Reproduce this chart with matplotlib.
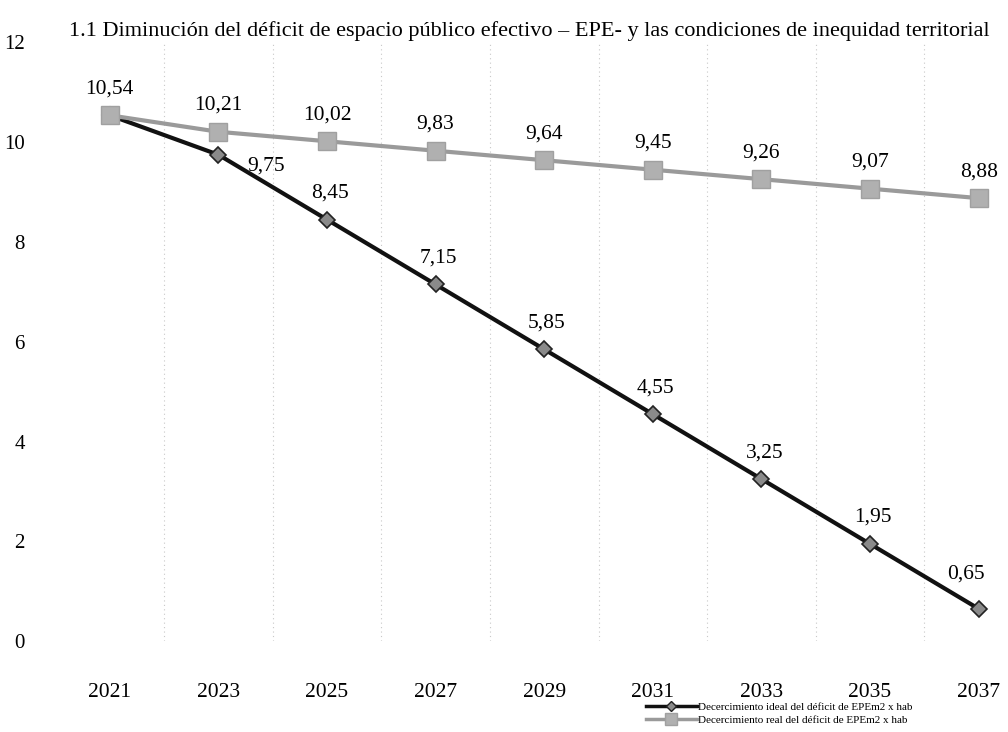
import matplotlib.pyplot as plt
from matplotlib.lines import Line2D

plt.rcParams['font.family'] = ['Liberation Serif', 'DejaVu Serif']

years = ['2021', '2023', '2025', '2027', '2029', '2031', '2033', '2035', '2037']
ideal = [10.54, 9.75, 8.45, 7.15, 5.85, 4.55, 3.25, 1.95, 0.65]
real = [10.54, 10.21, 10.02, 9.83, 9.64, 9.45, 9.26, 9.07, 8.88]

title = ('1.1 Diminución del déficit de espacio público efectivo \u2013 EPE- '
         'y las condiciones de inequidad territorial')
lbl_ideal = 'Decercimiento ideal del déficit de EPEm2 x hab'
lbl_real = 'Decercimiento real del déficit de EPEm2 x hab'


def fmt(v):
    return '{:.2f}'.format(v).replace('.', ',')


fig = plt.figure(figsize=(10.08, 7.32), dpi=100)
ax = fig.add_axes([0.055, 0.124, 0.945, 0.818])

x = list(range(len(years)))

# faint dotted separators between categories
for k in range(len(years) - 1):
    ax.axvline(k + 0.5, color='#c8c8c8', lw=0.8, ls=(0, (1, 3)), zorder=0)

ax.plot(x, ideal, color='#111111', lw=3, marker='D', ms=8,
        mfc='#8a8a8a', mec='#222222', mew=1.2, zorder=3)
ax.plot(x, real, color='#9a9a9a', lw=3, marker='s', ms=13,
        mfc='#b0b0b0', mec='#a0a0a0', zorder=4)

# data labels
for i, v in enumerate(real):
    ax.annotate(fmt(v), (i, v), xytext=(0, 19), textcoords='offset points',
                ha='center', va='center', fontsize=15.5)
for i, v in enumerate(ideal):
    if i == 0:
        continue
    dx, dy = 2, 19
    if i == 1:
        dx, dy = 34, -8
    elif i == len(ideal) - 1:
        dx, dy = -9, 25
    ax.annotate(fmt(v), (i, v), xytext=(dx, dy), textcoords='offset points',
                ha='center', va='center', fontsize=15.5)

ax.set_xlim(-0.5, 8.27)
ax.set_ylim(0, 12)
ax.set_yticks([0, 2, 4, 6, 8, 10, 12])
ax.set_yticklabels(['0', '2', '4', '6', '8', '10', '12'], fontsize=15)
ax.set_xticks(x)
ax.set_xticklabels(years, fontsize=15.5)
ax.tick_params(axis='y', length=0, pad=22)
ax.tick_params(axis='x', length=0, pad=30)
for s in ax.spines.values():
    s.set_visible(False)

fig.text(0.068, 0.958, title, fontsize=16, ha='left', va='center')

handles = [
    Line2D([], [], color='#111111', lw=2.5, marker='D', ms=5,
           mfc='#8a8a8a', mec='#222222'),
    Line2D([], [], color='#9a9a9a', lw=2.5, marker='s', ms=8,
           mfc='#b0b0b0', mec='#a0a0a0'),
]
fig.legend(handles, [lbl_ideal, lbl_real], loc='center left',
           bbox_to_anchor=(0.635, 0.025), frameon=False, fontsize=8,
           handlelength=4.6, handletextpad=0.15, labelspacing=0.25,
           borderpad=0)

fig.savefig('out.png', dpi=100)
